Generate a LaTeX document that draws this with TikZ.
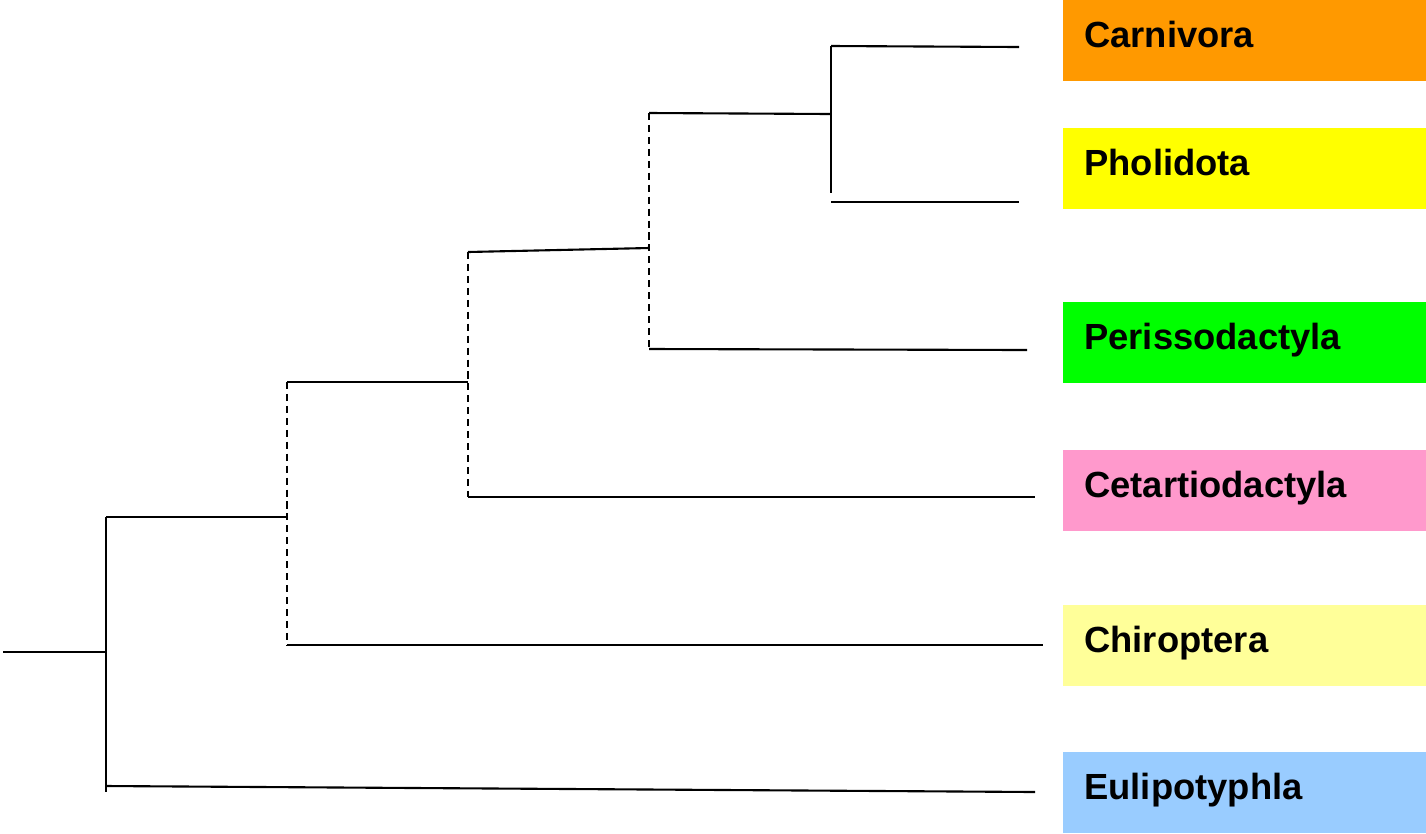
\documentclass[tikz,border=0pt]{standalone}
\usepackage{fontspec}
\setmainfont{Liberation Sans}
\usepackage{tikz}
\usetikzlibrary{shapes,arrows}
\tikzstyle{branch} = [draw, line width=1.2pt]
\tikzstyle{unsure} = [draw, line width=1.2pt, dash pattern=on 4pt off 2.8pt]
\tikzstyle{taxon} = [anchor=north west, minimum height=1.61cm, text width=6.42cm,
  inner xsep=0.42cm, inner ysep=0pt, align=left, text height=0.6cm, text depth=0.34cm,
  font=\fontsize{20.7pt}{24pt}\selectfont\bfseries]
\definecolor{carncol}{HTML}{FF9900}
\definecolor{pholcol}{HTML}{FFFF00}
\definecolor{pericol}{HTML}{00FF00}
\definecolor{cetacol}{HTML}{FF99CC}
\definecolor{chircol}{HTML}{FFFF99}
\definecolor{eulicol}{HTML}{99CCFF}

\begin{document}
\begin{tikzpicture}[x=0.02cm, y=-0.02cm]
	\useasboundingbox (0,0) rectangle (1426,833);

	% nodes
	\node[taxon, fill=carncol] (Carn) at (1063,0) {Carnivora};
	\node[taxon, fill=pholcol] (Phol) at (1063,128) {Pholidota};
	\node[taxon, fill=pericol] (Peri) at (1063,302) {Perissodactyla};
	\node[taxon, fill=cetacol] (Ceta) at (1063,450) {Cetartiodactyla};
	\node[taxon, fill=chircol] (Chir) at (1063,605) {Chiroptera};
	\node[taxon, fill=eulicol] (Euli) at (1063,752) {Eulipotyphla};

	% branch points
	\coordinate (A) at (3,652);
	\coordinate (B) at (106,652);
	\coordinate (Bt) at (106,517);
	\coordinate (Bb) at (106,792);
	\coordinate (Be) at (106,786);
	\coordinate (C) at (287,517);
	\coordinate (Ct) at (287,382);
	\coordinate (Cb) at (287,645);
	\coordinate (D) at (468,382);
	\coordinate (Dt) at (468,252);
	\coordinate (Db) at (468,497);
	\coordinate (E) at (649,248);
	\coordinate (Et) at (649,113);
	\coordinate (Eb) at (649,349);
	\coordinate (F) at (831,114);
	\coordinate (Ft) at (831,46);
	\coordinate (Fb) at (831,193);
	\coordinate (Fp) at (831,202);

	% tips
	\coordinate (carn) at (1019,47);
	\coordinate (phol) at (1019,202);
	\coordinate (peri) at (1027,350);
	\coordinate (ceta) at (1035,497);
	\coordinate (chir) at (1043,645);
	\coordinate (euli) at (1035,792);

	% branches
	\draw [branch] (A) -- (B);
	\draw [branch] (Bt) -- (Bb);
	\draw [branch] (Bt) -- (C);
	\draw [branch] (Be) -- (euli);
	\draw [unsure] (Ct) -- (Cb);
	\draw [branch] (Ct) -- (D);
	\draw [branch] (Cb) -- (chir);
	\draw [unsure] (Dt) -- (Db);
	\draw [branch] (Dt) -- (E);
	\draw [branch] (Db) -- (ceta);
	\draw [unsure] (Et) -- (Eb);
	\draw [branch] (Et) -- (F);
	\draw [branch] (Eb) -- (peri);
	\draw [branch] (Ft) -- (Fb);
	\draw [branch] (Ft) -- (carn);
	\draw [branch] (Fp) -- (phol);

\end{tikzpicture}
\end{document}
